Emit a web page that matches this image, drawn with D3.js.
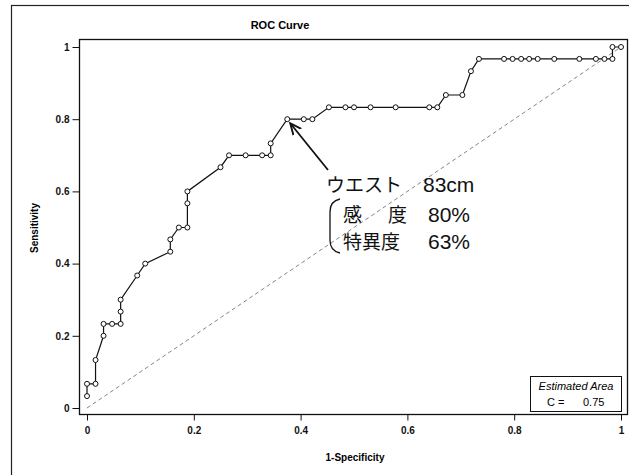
<!DOCTYPE html>
<html>
<head>
<meta charset="utf-8">
<script src="https://cdn.jsdelivr.net/npm/d3@7"></script>
<style>
body { margin: 0; background: #fff; }
</style>
</head>
<body>
<script>
// ROC points (1-specificity, sensitivity)
var fpr = [0, 0, 0.016, 0.016, 0.031, 0.031, 0.047, 0.063, 0.063, 0.063,
           0.094, 0.109, 0.156, 0.156, 0.172, 0.188, 0.188, 0.188, 0.25, 0.266,
           0.297, 0.328, 0.344, 0.344, 0.375, 0.406, 0.422, 0.453, 0.484, 0.5,
           0.531, 0.578, 0.641, 0.656, 0.672, 0.703, 0.719, 0.734, 0.781, 0.797,
           0.813, 0.828, 0.844, 0.875, 0.922, 0.953, 0.969, 0.984, 0.984, 1.0];
var tpr = [0.033, 0.067, 0.067, 0.133, 0.2, 0.233, 0.233, 0.233, 0.267, 0.3,
           0.367, 0.4, 0.433, 0.467, 0.5, 0.5, 0.567, 0.6, 0.667, 0.7,
           0.7, 0.7, 0.7, 0.733, 0.8, 0.8, 0.8, 0.833, 0.833, 0.833,
           0.833, 0.833, 0.833, 0.833, 0.867, 0.867, 0.933, 0.967, 0.967, 0.967,
           0.967, 0.967, 0.967, 0.967, 0.967, 0.967, 0.967, 0.967, 1.0, 1.0];
var xTicks = [0, 0.2, 0.4, 0.6, 0.8, 1];
var yTicks = [0, 0.2, 0.4, 0.6, 0.8, 1];
var xTickLabels = ["0", "0.2", "0.4", "0.6", "0.8", "1"];
var yTickLabels = ["0", "0.2", "0.4", "0.6", "0.8", "1"];
var cutoff = { fpr: 0.375, tpr: 0.8 };
var area = "0.75";

var W = 629, H = 475;
var frame = { left: 79, top: 39, right: 627, bottom: 414 };

var svg = d3.select("body").append("svg")
    .attr("width", W)
    .attr("height", H)
    .style("font-family", "'Liberation Sans', Arial, sans-serif");

// outer frame
svg.append("rect")
    .attr("x", 11.5).attr("y", 5.5)
    .attr("width", 640).attr("height", 500)
    .attr("fill", "none").attr("stroke", "#222").attr("stroke-width", 1.2);

var x = d3.scaleLinear().domain([0, 1]).range([87, 621]);
var y = d3.scaleLinear().domain([0, 1]).range([408, 47]);

// plot box
svg.append("rect")
    .attr("x", frame.left + 0.5).attr("y", frame.top + 0.5)
    .attr("width", frame.right - frame.left).attr("height", frame.bottom - frame.top)
    .attr("fill", "none").attr("stroke", "#111").attr("stroke-width", 1.3);

// axes
var xAxis = d3.axisBottom(x).tickValues(xTicks).tickSize(6).tickPadding(6)
    .tickFormat(function(d, i) { return xTickLabels[i]; });
var gx = svg.append("g").attr("transform", "translate(0," + (frame.bottom + 0.5) + ")").call(xAxis);
gx.select(".domain").remove();

var yAxis = d3.axisLeft(y).tickValues(yTicks).tickSize(7).tickPadding(3)
    .tickFormat(function(d, i) { return yTickLabels[i]; });
var gy = svg.append("g").attr("transform", "translate(" + (frame.left + 0.5) + ",0)").call(yAxis);
gy.select(".domain").remove();

svg.selectAll(".tick text")
    .attr("font-size", 10).attr("font-weight", "bold").attr("fill", "#111")
    .attr("font-family", "'Liberation Sans', Arial, sans-serif");
svg.selectAll(".tick line").attr("stroke", "#111");

// chance line
svg.append("line")
    .attr("x1", x(0)).attr("y1", y(0))
    .attr("x2", x(1)).attr("y2", y(1))
    .attr("stroke", "#666").attr("stroke-width", 0.8)
    .attr("stroke-dasharray", "4,3");

var pts = fpr.map(function(d, i) { return [d, tpr[i]]; });

var line = d3.line()
    .x(function(d) { return x(d[0]); })
    .y(function(d) { return y(d[1]); });

svg.append("path")
    .datum(pts)
    .attr("d", line)
    .attr("fill", "none")
    .attr("stroke", "#111")
    .attr("stroke-width", 1.2);

svg.selectAll("circle.pt")
    .data(pts)
    .enter()
    .append("circle")
    .attr("class", "pt")
    .attr("cx", function(d) { return x(d[0]); })
    .attr("cy", function(d) { return y(d[1]); })
    .attr("r", 2.5)
    .attr("fill", "#fff")
    .attr("stroke", "#111")
    .attr("stroke-width", 1);

// titles
svg.append("text")
    .attr("x", 280).attr("y", 29)
    .attr("text-anchor", "middle")
    .attr("font-size", 11).attr("font-weight", "bold")
    .text("ROC Curve");

svg.append("text")
    .attr("x", 355).attr("y", 461)
    .attr("text-anchor", "middle")
    .attr("font-size", 10).attr("font-weight", "bold")
    .text("1-Specificity");

svg.append("text")
    .attr("transform", "translate(38,228) rotate(-90)")
    .attr("text-anchor", "middle")
    .attr("font-size", 10).attr("font-weight", "bold")
    .text("Sensitivity");

// estimated area box
var box = svg.append("g").attr("transform", "translate(530,376)");
box.append("rect")
    .attr("x", 0.5).attr("y", 0.5).attr("width", 91).attr("height", 35)
    .attr("fill", "#fff").attr("stroke", "#111").attr("stroke-width", 1);
box.append("text")
    .attr("x", 46).attr("y", 14)
    .attr("text-anchor", "middle").attr("font-size", 11).attr("font-style", "italic")
    .text("Estimated Area");
box.append("text")
    .attr("x", 17).attr("y", 30)
    .attr("font-size", 11)
    .text("C =");
box.append("text")
    .attr("x", 53).attr("y", 30)
    .attr("font-size", 11)
    .text(area);

// annotation arrow
svg.append("defs").append("marker")
    .attr("id", "ah").attr("viewBox", "0 0 10 10")
    .attr("refX", 9).attr("refY", 5)
    .attr("markerWidth", 7).attr("markerHeight", 7)
    .attr("orient", "auto")
    .append("path").attr("d", "M0,1 L9,5 L0,9").attr("fill", "none")
    .attr("stroke", "#111").attr("stroke-width", 1.5);

svg.append("line")
    .attr("x1", 328).attr("y1", 170)
    .attr("x2", x(cutoff.fpr) + 3).attr("y2", y(cutoff.tpr) + 4)
    .attr("stroke", "#111").attr("stroke-width", 1.8)
    .attr("marker-end", "url(#ah)");

var jp = "'Noto Sans CJK JP', 'Noto Sans', sans-serif";
var lat = "'Liberation Sans', Arial, sans-serif";
var ann = svg.append("g").attr("font-family", jp).attr("font-size", 19).attr("fill", "#111");
ann.append("text").attr("x", 326).attr("y", 192).text("ウエスト");
ann.append("text").attr("x", 423).attr("y", 192).attr("font-family", lat).attr("font-size", 21).text("83cm");
ann.append("text").attr("x", 343).attr("y", 222).text("感");
ann.append("text").attr("x", 388).attr("y", 222).text("度");
ann.append("text").attr("x", 428).attr("y", 222).attr("font-family", lat).attr("font-size", 21).text("80%");
ann.append("text").attr("x", 343).attr("y", 249).text("特異度");
ann.append("text").attr("x", 428).attr("y", 249).attr("font-family", lat).attr("font-size", 21).text("63%");

// bracket
svg.append("path")
    .attr("d", "M340,199 Q330,201 330,212 L330,240 Q330,251 340,253")
    .attr("fill", "none").attr("stroke", "#111").attr("stroke-width", 1.3);
</script>
</body>
</html>
